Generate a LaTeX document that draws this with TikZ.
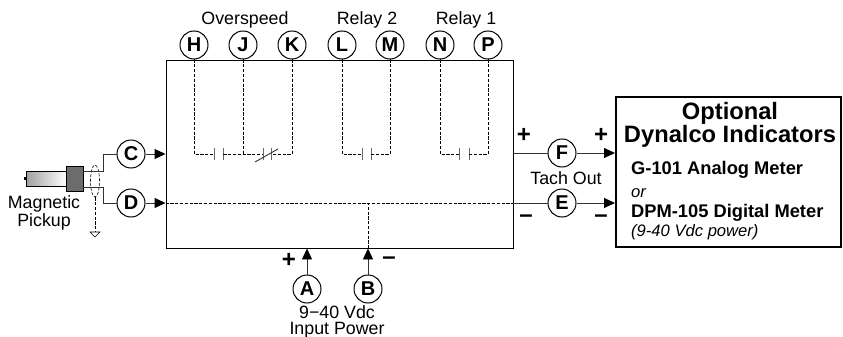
\documentclass[tikz,border=0pt]{standalone}
\usepackage{fontspec}
\setmainfont{Liberation Sans}
\usetikzlibrary{shapes.geometric, arrows.meta}
\tikzstyle{arrow} = [draw=black!80,line width=0.9pt,->,>={Triangle[length=11pt,width=10pt,black]}]

\begin{document}
\begin{tikzpicture}[
    x=1pt, y=-1pt,
    pin/.style={circle, draw, line width=1pt, fill=white, minimum size=28pt, inner sep=0pt, font=\fontsize{20}{20}\selectfont\bfseries},
    txt/.style={inner sep=0pt, align=center, font=\fontsize{17.8}{16.5}\selectfont},
    head/.style={inner sep=0pt, align=center, font=\fontsize{23.7}{20}\selectfont\bfseries},
    meter/.style={inner sep=0pt, anchor=west, font=\fontsize{18.3}{18.3}\selectfont\bfseries},
    note/.style={inner sep=0pt, anchor=west, font=\fontsize{16.6}{16.6}\selectfont\itshape},
    sign/.style={inner sep=0pt, font=\fontsize{24}{24}\selectfont\bfseries},
    plate/.style={draw=black!90, line width=0.9pt, minimum width=0pt, minimum height=12pt, inner sep=0pt},
    wire/.style={draw=black!80, line width=0.9pt},
    sig/.style={draw=black, line width=0.7pt, dash pattern=on 3.2pt off 1.6pt}
  ]
  \useasboundingbox (0,0) rectangle (843,337);

  \node[draw, line width=0.9pt, minimum width=347pt, minimum height=188pt, inner sep=0pt] (unit) at (339.5,154) {};
  \node[draw, line width=2pt, minimum width=225pt, minimum height=150pt, inner sep=0pt] (indicators) at (728.5,172) {};

  \node[pin] (H) at (194,45) {H};
  \node[pin] (J) at (243,45) {J};
  \node[pin] (K) at (292,45) {K};
  \node[pin] (L) at (342,45) {L};
  \node[pin] (M) at (390,45) {M};
  \node[pin] (N) at (440,45) {N};
  \node[pin] (P) at (488,45) {P};
  \node[pin] (C) at (131,154) {C};
  \node[pin] (D) at (131,203) {D};
  \node[pin] (F) at (562,153) {F};
  \node[pin] (E) at (562,203) {E};
  \node[pin] (A) at (307,289) {A};
  \node[pin] (B) at (368,289) {B};

  \node[txt] (overspeed) at (245,20) {Overspeed};
  \node[txt] (relay2) at (367,20) {Relay 2};
  \node[txt] (relay1) at (466,20) {Relay 1};
  \node[txt] (tach) at (566,178) {Tach Out};
  \node[txt] (magnetic) at (44,213) {Magnetic\\Pickup};
  \node[txt] (volts) at (337,322) {9−40 Vdc\\Input Power};

  \node[head] (dynalco) at (730,125) {Optional\\Dynalco Indicators};
  \node[meter] (analog) at (631,170) {G-101 Analog Meter};
  \node[note] (or) at (631,193) {or};
  \node[meter] (digital) at (631,213) {DPM-105 Digital Meter};
  \node[note] (supply) at (631,232) {(9-40 Vdc power)};

  \node[sign] (fplus) at (524,135) {+};
  \node[sign] (tplus) at (601,135) {+};
  \node[sign] (fminus) at (526,219) {–};
  \node[sign] (tminus) at (601,219) {–};
  \node[sign] (aplus) at (289,260) {+};
  \node[sign] (bminus) at (389,261) {–};

  \node[plate] (h1) at (214,154) {};
  \node[plate] (h2) at (223,154) {};
  \node[plate] (k1) at (263,154) {};
  \node[plate] (k2) at (271,154) {};
  \node[plate] (l1) at (362,154) {};
  \node[plate] (l2) at (371,154) {};
  \node[plate] (n1) at (459,154) {};
  \node[plate] (n2) at (469,154) {};
  \coordinate (k3) at (255,162);
  \coordinate (k4) at (278,149);
  \draw[wire] (k3) -- (k4);

  \draw[sig] (H.south) |- (h1.west);
  \draw[sig] (h2.east) -- (k1.west);
  \draw[sig] (J.south) -- (J.south |- h2.east);
  \draw[sig] (K.south) |- (k2.east);
  \draw[sig] (L.south) |- (l1.west);
  \draw[sig] (M.south) |- (l2.east);
  \draw[sig] (N.south) |- (n1.west);
  \draw[sig] (P.south) |- (n2.east);

  \draw[arrow] (C.east) -- (C.east -| unit.west);
  \draw[arrow] (D.east) -- (D.east -| unit.west);
  \draw[sig] (D.east -| unit.west) -- (D.east -| unit.east);
  \draw[wire] (E.west -| unit.east) -- (E.west);
  \draw[wire] (F.west -| unit.east) -- (F.west);
  \draw[arrow] (F.east) -- (F.east -| indicators.west);
  \draw[arrow] (E.east) -- (E.east -| indicators.west);
  \draw[arrow] (A.north) -- (A.north |- unit.south);
  \draw[arrow] (B.north) -- (B.north |- unit.south);
  \draw[sig] (B.north |- unit.south) -- (B.north |- D.east);

  \node[draw, line width=0.8pt, left color=gray!75, right color=white, minimum width=40pt, minimum height=15pt, inner sep=0pt] (body) at (46,178.5) {};
  \node[draw, fill=gray!85!black, line width=0.8pt, minimum width=17pt, minimum height=25pt, inner sep=0pt] (block) at (74.5,178.5) {};
  \node[fill=black, minimum width=2pt, minimum height=3pt, inner sep=0pt] (tab) at (25,178.5) {};
  \node[ellipse, draw, line width=0.6pt, dash pattern=on 3pt off 1.6pt, minimum width=9pt, minimum height=32pt, inner sep=0pt] (shield) at (95,181) {};

  \coordinate (cs) at (83,171);
  \coordinate (ds) at (83,187);
  \coordinate (cb) at (103,171);
  \coordinate (db) at (103,187);
  \draw[wire] (cs) -- (cb) |- (C.west);
  \draw[wire] (ds) -- (db) |- (D.west);

  \coordinate (gnd) at (95,232);
  \coordinate (gndl) at (90,232);
  \coordinate (gndr) at (100,232);
  \coordinate (gndb) at (95,237);
  \draw[sig] (shield.south) -- (gnd);
  \draw[line width=0.6pt] (gndl) -- (gndr) -- (gndb) -- cycle;

\end{tikzpicture}
\end{document}
